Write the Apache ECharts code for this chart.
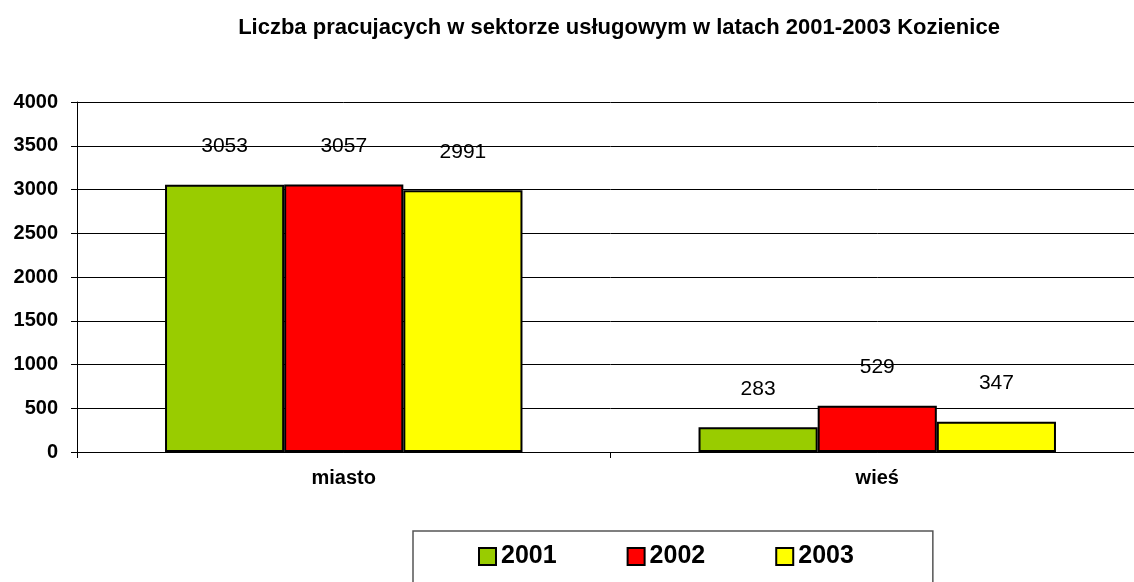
<!DOCTYPE html>
<html>
<head>
    <meta charset="UTF-8">
    <title>Liczba pracujacych</title>
    <script src="https://cdn.jsdelivr.net/npm/echarts@6/dist/echarts.min.js"></script>
    <style>
        html, body { margin: 0; padding: 0; background: #fff; overflow: hidden; }
    </style>
</head>
<body>
    <!-- wykres szerszy o 10px, prawa krawedz siatki wychodzi poza obraz jak w oryginale -->
    <div id="main" style="width: 1144px;height:582px;"></div>
    <script type="text/javascript">
        // dane z wykresu
        var categories = ['miasto', 'wieś'];
        var years = ['2001', '2002', '2003'];
        var values2001 = [3053, 283];
        var values2002 = [3057, 529];
        var values2003 = [2991, 347];
        var colors = ['#99CC00', '#FF0000', '#FFFF00'];
        var yTicks = { min: 0, max: 4000, interval: 500 };

        var font = 'Arial, "Liberation Sans", sans-serif';
        var myChart = echarts.init(document.getElementById('main'));

        var allValues = [values2001, values2002, values2003];
        var series = [];
        for (var i = 0; i < years.length; i++) {
            series.push({
                name: years[i],
                type: 'bar',
                data: allValues[i],
                barGap: '0%',
                barCategoryGap: '33%',
                itemStyle: {
                    color: colors[i],
                    borderColor: '#000',
                    borderWidth: 2
                },
                label: {
                    show: true,
                    position: 'top',
                    distance: 28,
                    color: '#000',
                    fontFamily: font,
                    fontSize: 21
                }
            });
        }

        myChart.setOption({
            animation: false,
            color: colors,
            title: {
                text: 'Liczba pracujacych w sektorze usługowym w latach 2001-2003 Kozienice',
                left: 614,
                textAlign: 'center',
                top: 12,
                textStyle: {
                    fontFamily: font,
                    fontSize: 22,
                    fontWeight: 'bold',
                    color: '#000'
                }
            },
            legend: {
                data: years.map(function (y, i) {
                    return { name: y, itemStyle: { color: colors[i], borderColor: '#000', borderWidth: 2 } };
                }),
                left: 413,
                top: 531,
                itemWidth: 17,
                itemHeight: 17,
                itemGap: 70,
                icon: 'rect',
                padding: [13, 79, 40, 65],
                borderColor: '#555',
                borderWidth: 1.5,
                textStyle: {
                    fontFamily: font,
                    fontSize: 25,
                    fontWeight: 'bold',
                    color: '#000'
                }
            },
            grid: {
                left: 77,
                right: 0,
                top: 102,
                bottom: 130
            },
            xAxis: {
                type: 'category',
                data: categories,
                axisLine: { lineStyle: { color: '#000', width: 1 } },
                axisTick: { show: true, length: 6, lineStyle: { color: '#000' } },
                axisLabel: {
                    margin: 16,
                    fontFamily: font,
                    fontSize: 20,
                    fontWeight: 'bold',
                    color: '#000'
                }
            },
            yAxis: {
                type: 'value',
                min: yTicks.min,
                max: yTicks.max,
                interval: yTicks.interval,
                axisLine: { show: true, lineStyle: { color: '#000', width: 1 } },
                axisTick: { show: true, length: 6, lineStyle: { color: '#000' } },
                splitLine: { lineStyle: { color: '#000', width: 1 } },
                axisLabel: {
                    margin: 19,
                    formatter: function (v) { return String(v); },
                    fontFamily: font,
                    fontSize: 20,
                    fontWeight: 'bold',
                    color: '#000'
                }
            },
            series: series
        });
    </script>
</body>
</html>
